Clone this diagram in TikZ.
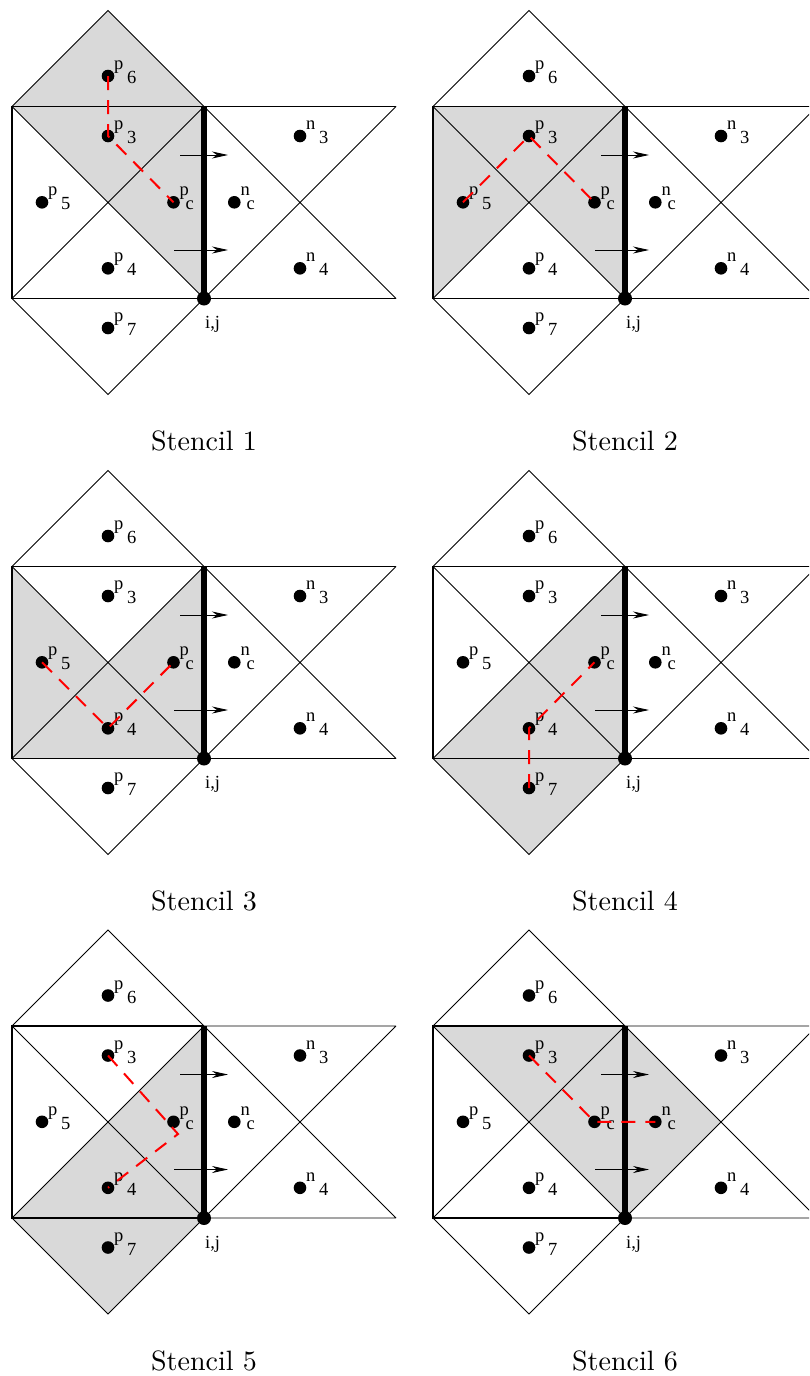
\documentclass[tikz,border=0pt]{standalone}
\usepackage{fontspec}
\newfontfamily\labfont{Liberation Serif}
\newfontfamily\capfont{lmroman10-regular}[Extension=.otf]
\usetikzlibrary{arrows.meta}
\tikzset{
  gline/.style={line width=0.9pt, black},
  sqline/.style={line width=1.5pt, black},
  edgeline/.style={line width=6.3pt, black},
  shadefill/.style={fill=black!15},
  dotnode/.style={circle, fill=black, inner sep=0pt, minimum size=12.6pt},
  labnode/.style={inner sep=0pt, anchor=base west, font=\labfont\fontsize{18.5}{21}\selectfont},
  capnode/.style={inner sep=0pt, anchor=base, font=\capfont\fontsize{28}{34}\selectfont},
  flow/.style={line width=0.9pt, -{Stealth[length=16pt, width=7pt, inset=5pt]}},
  reddash/.style={red, line width=2pt, dash pattern=on 14pt off 10pt},
}
\newcommand\gridcoords[1]{%
  \coordinate (#1TL) at (12,106.5);
  \coordinate (#1TR) at (204,106.5);
  \coordinate (#1BL) at (12,298.5);
  \coordinate (#1BR) at (204,298.5);
  \coordinate (#1C) at (108,202.5);
  \coordinate (#1T) at (108,10.5);
  \coordinate (#1B) at (108,394.5);
  \coordinate (#1RT) at (396,106.5);
  \coordinate (#1RB) at (396,298.5);
  \coordinate (#1RC) at (300,202.5);
  \coordinate (#1A1s) at (180,155);
  \coordinate (#1A1e) at (228,155);
  \coordinate (#1A2s) at (174,250);
  \coordinate (#1A2e) at (228,250);
}
\newcommand\dotlab[6]{%
  \node[dotnode] (#1) at (#2,#3) {};
  \node[labnode] (#1-a) at ([xshift=6pt,yshift=6.5pt]#1.center) {#4};
  \node[labnode] (#1-b) at ([xshift=#6pt,yshift=-7.5pt]#1.center) {#5};
}
\newcommand\gridbase[2]{%
  \draw[gline] (#1TL) -- (#1T) -- (#1TR) (#1BL) -- (#1B) -- (#1BR);
  \draw[gline] (#1TL) -- (#1BR) (#1BL) -- (#1TR);
  \draw[gline] (#1TR) -- (#1RT) (#1BR) -- (#1RB) (#1TR) -- (#1RB) (#1BR) -- (#1RT);
  \draw[sqline] (#1TR) -- (#1TL) -- (#1BL) -- (#1BR);
  \draw[edgeline] (#1TR) -- (#1BR);
  \draw[flow] (#1A1s) -- (#1A1e);
  \draw[flow] (#1A2s) -- (#1A2e);
  \dotlab{#1p6}{108}{76}{p}{6}{19}
  \dotlab{#1p3}{108}{136}{p}{3}{19}
  \dotlab{#1p5}{42}{202.3}{p}{5}{19}
  \dotlab{#1pc}{173.5}{202.3}{p}{c}{12}
  \dotlab{#1nc}{234.3}{202.3}{n}{c}{12}
  \dotlab{#1p4}{108}{268.3}{p}{4}{19}
  \dotlab{#1p7}{108}{328}{p}{7}{19}
  \dotlab{#1n3}{300}{136}{n}{3}{19}
  \dotlab{#1n4}{300}{268.3}{n}{4}{19}
  \node[dotnode, minimum size=14pt] (#1ij) at (#1BR) {};
  \node[labnode] (#1ijl) at (205,328.5) {i,j};
  \node[capnode] (#1cap) at (204,450.5) {Stencil #2};
}
\begin{document}
\begin{tikzpicture}[x=1pt, y=-1pt]
\useasboundingbox (0,0) rectangle (809,1376);
\clip (0,0) rectangle (809,1376);
% Stencil 1
\begin{scope}[shift={(0,0)}]
  \gridcoords{a}
  \fill[shadefill] (aTL) -- (aT) -- (aTR) -- cycle;
  \fill[shadefill] (aTL) -- (aTR) -- (aC) -- cycle;
  \fill[shadefill] (aTR) -- (aBR) -- (aC) -- cycle;
  \gridbase{a}{1}
  \draw[reddash] (ap6.center) -- (ap3.center) -- (apc.center);
\end{scope}
% Stencil 2
\begin{scope}[shift={(421,0)}]
  \gridcoords{b}
  \fill[shadefill] (bTL) -- (bTR) -- (bC) -- cycle;
  \fill[shadefill] (bTL) -- (bBL) -- (bC) -- cycle;
  \fill[shadefill] (bTR) -- (bBR) -- (bC) -- cycle;
  \gridbase{b}{2}
  \draw[reddash] (bp5.center) -- (bp3.center) -- (bpc.center);
\end{scope}
% Stencil 3
\begin{scope}[shift={(0,460)}]
  \gridcoords{c}
  \fill[shadefill] (cTL) -- (cBL) -- (cC) -- cycle;
  \fill[shadefill] (cBL) -- (cBR) -- (cC) -- cycle;
  \fill[shadefill] (cTR) -- (cBR) -- (cC) -- cycle;
  \gridbase{c}{3}
  \draw[reddash] (cp5.center) -- (cp4.center) -- (cpc.center);
\end{scope}
% Stencil 4
\begin{scope}[shift={(421,460)}]
  \gridcoords{d}
  \fill[shadefill] (dBL) -- (dB) -- (dBR) -- cycle;
  \fill[shadefill] (dBL) -- (dBR) -- (dC) -- cycle;
  \fill[shadefill] (dTR) -- (dBR) -- (dC) -- cycle;
  \gridbase{d}{4}
  \draw[reddash] (dp7.center) -- (dp4.center) -- (dpc.center);
\end{scope}
% Stencil 5
\begin{scope}[shift={(0,919.5)}]
  \gridcoords{e}
  \fill[shadefill] (eBL) -- (eB) -- (eBR) -- cycle;
  \fill[shadefill] (eBL) -- (eBR) -- (eC) -- cycle;
  \fill[shadefill] (eTR) -- (eBR) -- (eC) -- cycle;
  \gridbase{e}{5}
  \coordinate (ekink) at (178,214.5);
  \draw[reddash] (ep3.center) -- (ekink) -- (ep4.center);
\end{scope}
% Stencil 6
\begin{scope}[shift={(421,919.5)}]
  \gridcoords{f}
  \fill[shadefill] (fTL) -- (fTR) -- (fC) -- cycle;
  \fill[shadefill] (fTR) -- (fBR) -- (fC) -- cycle;
  \fill[shadefill] (fTR) -- (fRC) -- (fBR) -- cycle;
  \gridbase{f}{6}
  \draw[reddash] (fp3.center) -- (fpc.center) -- (fnc.center);
\end{scope}
\end{tikzpicture}
\end{document}
